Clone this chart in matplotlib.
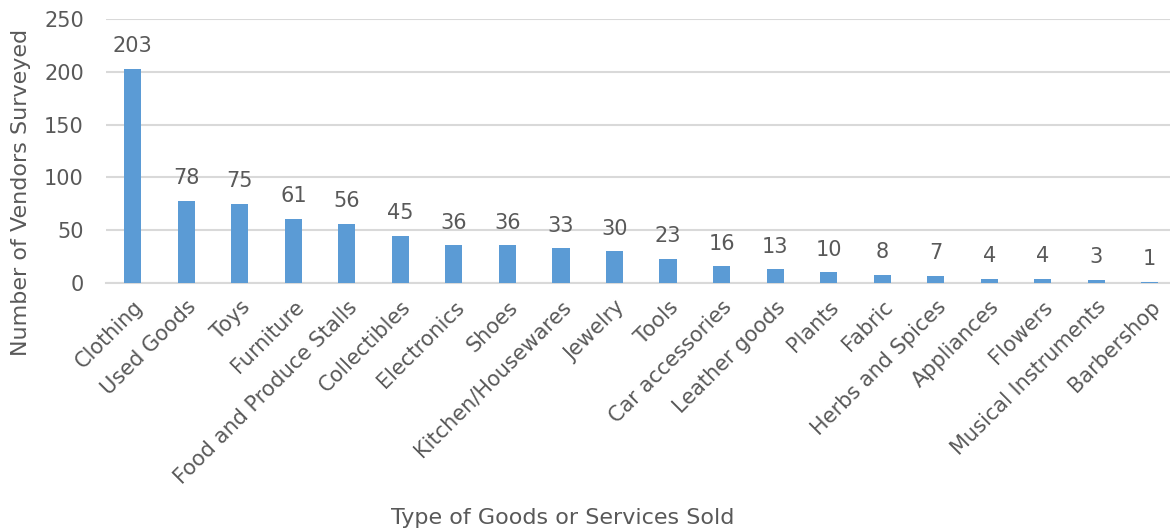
import matplotlib.pyplot as plt

# survey counts by type of goods/services
categories = ["Clothing", "Used Goods", "Toys", "Furniture", "Food and Produce Stalls",
              "Collectibles", "Electronics", "Shoes", "Kitchen/Housewares", "Jewelry",
              "Tools", "Car accessories", "Leather goods", "Plants", "Fabric",
              "Herbs and Spices", "Appliances", "Flowers", "Musical Instruments", "Barbershop"]
vendors = [203, 78, 75, 61, 56, 45, 36, 36, 33, 30, 23, 16, 13, 10, 8, 7, 4, 4, 3, 1]
y_ticks = [0, 50, 100, 150, 200, 250]

bar_color = "#5B9BD5"
text_color = "#595959"
grid_color = "#D9D9D9"

plt.rcParams['font.family'] = ['DejaVu Sans']

fig = plt.figure(figsize=(11.7, 5.31), dpi=100)
ax = fig.add_axes([0.0906, 0.467, 0.915, 0.497])

x = list(range(len(categories)))
bars = ax.bar(x, vendors, width=0.32, color=bar_color, zorder=3)

# value labels above each bar
for xi, v in zip(x, vendors):
    ax.annotate(str(v), (xi, v), xytext=(0, 9), textcoords="offset points",
                ha="center", va="bottom", fontsize=15, color=text_color)

ax.set_xlim(-0.5, len(categories) - 0.5)
ax.set_ylim(0, 250)
ax.set_yticks(y_ticks)
ax.set_xticks(x)
ax.set_xticklabels(categories, rotation=45, ha="right", va="top",
                   rotation_mode="anchor", fontsize=15, color=text_color)
ax.tick_params(axis="both", length=0)
ax.tick_params(axis="x", pad=10)
ax.tick_params(axis="y", pad=16, labelsize=15, labelcolor=text_color)

ax.yaxis.grid(True, color=grid_color, linewidth=1.5, zorder=0)
for side in ["top", "right", "left"]:
    ax.spines[side].set_visible(False)
ax.spines["bottom"].set_color(grid_color)
ax.spines["bottom"].set_linewidth(1.5)

fig.text(0.481, 0.024, "Type of Goods or Services Sold", ha="center", va="center",
         fontsize=16, color=text_color)
fig.text(0.018, 0.638, "Number of Vendors Surveyed", ha="center", va="center",
         rotation=90, fontsize=16, color=text_color)

fig.savefig("out.png", dpi=100)
